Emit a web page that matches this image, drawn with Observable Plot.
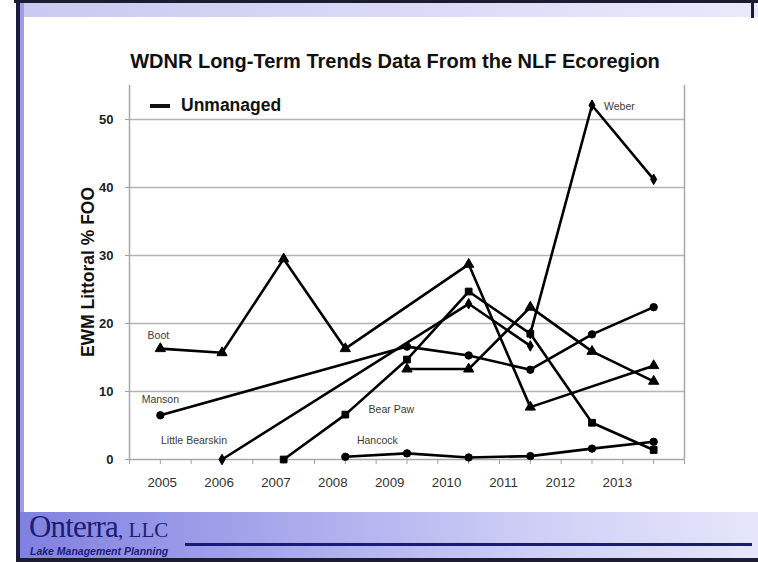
<!DOCTYPE html>
<html><head><meta charset="utf-8">
<script src="https://cdn.jsdelivr.net/npm/d3@7"></script>
<script src="https://cdn.jsdelivr.net/npm/@observablehq/plot@0.6"></script>
<style>
html,body{margin:0;padding:0;background:#fff;}
#slide{position:relative;width:758px;height:562px;overflow:hidden;font-family:Arial,"Liberation Sans",sans-serif;background:#fff;}
#topline{position:absolute;left:14px;top:0;width:744px;height:3px;background:#1c1c30;}
#topband{position:absolute;left:18px;top:3px;width:740px;height:14px;background:linear-gradient(to right,#c9c9f1,#dcdcf8 60%,#e9e9fb);}
#rightcap{position:absolute;left:751px;top:0;width:3px;height:18px;background:#1c1c30;}
#leftline{position:absolute;left:16px;top:0;width:4px;height:562px;background:#1c1c3a;}
#leftband{position:absolute;left:20px;top:3px;width:4px;height:555px;background:#9c9ce8;}
#footer{position:absolute;left:20px;top:512px;width:738px;height:46px;background:linear-gradient(to right,#8080df,#a8a8ec 35%,#cfcff6 70%,#e6e6fb);}
#bottomline{position:absolute;left:16px;top:558px;width:742px;height:4px;background:#1c1c30;}
#footrule{position:absolute;left:185px;top:543px;width:567px;height:3px;background:#1a1a7a;}
#logo{position:absolute;left:29px;top:511px;color:#1d1d78;font-family:"Liberation Serif","DejaVu Serif",serif;font-size:31px;line-height:32px;letter-spacing:-0.8px;}
#logo span{font-size:21px;letter-spacing:0;}
#tag{position:absolute;left:30px;top:545px;color:#1d1d78;font-family:Arial,sans-serif;font-style:italic;font-weight:bold;font-size:10.5px;}
#title{position:absolute;left:0;width:790px;top:50px;text-align:center;font-weight:bold;font-size:20px;color:#111;}
#ylabel{position:absolute;left:88px;top:272px;transform:translate(-50%,-50%) rotate(-90deg);white-space:nowrap;font-weight:bold;font-size:17.5px;color:#111;}
#legline{position:absolute;left:150px;top:104px;width:20px;height:4px;background:#111;}
#legtext{position:absolute;left:181px;top:95px;font-weight:bold;font-size:17.5px;color:#111;}
#chart{position:absolute;left:0;top:0;}
</style></head><body>
<div id="slide">
<div id="topband"></div><div id="topline"></div><div id="rightcap"></div>
<div id="leftband"></div><div id="leftline"></div>
<div id="footer"></div><div id="bottomline"></div><div id="footrule"></div>
<div id="logo">Onterra<span>, LLC</span></div>
<div id="tag">Lake Management Planning</div>
<div id="chart"></div>
<div id="title">WDNR Long-Term Trends Data From the NLF Ecoregion</div>
<div id="ylabel">EWM Littoral % FOO</div>
<div id="legline"></div><div id="legtext">Unmanaged</div>
</div>
<script>
// ---- data ----
const tickYears = [2005, 2006, 2007, 2008, 2009, 2010, 2011, 2012, 2013];
const tickLabels = ["2005", "2006", "2007", "2008", "2009", "2010", "2011", "2012", "2013"];
const yTicks = [0, 10, 20, 30, 40, 50];

const bootYears = [2005, 2006, 2007, 2008, 2010, 2011, 2013];
const bootValues = [16.3, 15.7, 29.5, 16.3, 28.7, 7.7, 13.8];

const mansonYears = [2005, 2009, 2010, 2011, 2012, 2013];
const mansonValues = [6.5, 16.6, 15.3, 13.2, 18.4, 22.4];

const littleBearskinYears = [2006, 2010, 2011];
const littleBearskinValues = [0, 22.9, 16.7];

const bearPawYears = [2007, 2008, 2009, 2010, 2011, 2012, 2013];
const bearPawValues = [0, 6.6, 14.7, 24.7, 18.5, 5.4, 1.4];

const hancockYears = [2008, 2009, 2010, 2011, 2012, 2013];
const hancockValues = [0.4, 0.9, 0.3, 0.5, 1.6, 2.6];

const weberYears = [2011, 2012, 2013];
const weberValues = [18.5, 52.1, 41.2];

const otherYears = [2009, 2010, 2011, 2012, 2013];
const otherValues = [13.3, 13.3, 22.4, 15.9, 11.5];

// ---- series assembly ----
const series = [
  {name: "Boot", years: bootYears, values: bootValues, symbol: "triangle", r: 3.8, label: {at: 2005, dx: -2, dy: -13}},
  {name: "Manson", years: mansonYears, values: mansonValues, symbol: "circle", r: 3.7, label: {at: 2005, dx: 0, dy: -16}},
  {name: "Little Bearskin", years: littleBearskinYears, values: littleBearskinValues, symbol: "diamond", r: 3.2, label: {at: 2006, dx: -28, dy: -19}},
  {name: "Bear Paw", years: bearPawYears, values: bearPawValues, symbol: "square", r: 3.8, label: {at: 2008, dx: 46, dy: -5}},
  {name: "Hancock", years: hancockYears, values: hancockValues, symbol: "circle", r: 3.7, label: {at: 2008, dx: 32, dy: -16}},
  {name: "Weber", years: weberYears, values: weberValues, symbol: "diamond", r: 3.2, label: {at: 2012, dx: 12, dy: 1, anchor: "start"}},
  {name: "", years: otherYears, values: otherValues, symbol: "triangle", r: 3.8, label: null}
];
const rows = s => s.years.map((y, i) => ({name: s.name, year: y, value: s.values[i]}));

// tick labels sit on a slightly compressed row, as in the original
const labelPos = y => 2005.03 + (y - 2005) * 0.9225;
const halfTicks = d3.range(2004.5, 2013.51, 0.5);

const marks = [
  Plot.gridY(yTicks.filter(d => d > 0), {stroke: "#b4b4b4", strokeOpacity: 1, strokeWidth: 1.5}),
  Plot.ruleX([2004.5, 2013.5], {stroke: "#a8a8a8", strokeWidth: 1.5}),
  Plot.ruleY([0], {stroke: "#a8a8a8", strokeWidth: 1.5}),
  Plot.axisX({ticks: halfTicks, tickSize: 5, tickFormat: () => "", stroke: "#a0a0a0", label: null}),
  Plot.axisY({ticks: yTicks, tickSize: 4, tickPadding: 12, stroke: "#a0a0a0", label: null,
    fontWeight: "bold", fontSize: 13, fill: "#222"}),
  Plot.text(tickYears, {x: d => labelPos(d), y: 0, text: (d, i) => tickLabels[i], dy: 23,
    fontSize: 13.3, fill: "#333", fontFamily: "Arial, Liberation Sans, sans-serif"})
];
for (const s of series) {
  const data = rows(s);
  marks.push(Plot.line(data, {x: "year", y: "value", stroke: "#000", strokeWidth: 2.6, strokeLinejoin: "miter"}));
  marks.push(Plot.dot(data, {x: "year", y: "value", symbol: s.symbol, r: s.r, fill: "#000", stroke: "#000", strokeWidth: 1}));
  if (s.label) {
    const p = data.find(d => d.year === s.label.at);
    marks.push(Plot.text([p], {x: "year", y: "value", text: () => s.name, dx: s.label.dx, dy: s.label.dy,
      textAnchor: s.label.anchor || "middle", fontSize: 10.5, fill: "#3a3a3a", fontFamily: "Arial, Liberation Sans, sans-serif"}));
  }
}

const chart = Plot.plot({
  width: 758, height: 562,
  marginLeft: 129, marginRight: 74, marginTop: 85, marginBottom: 103,
  style: {background: "transparent", fontFamily: "Arial, Liberation Sans, sans-serif"},
  x: {type: "linear", domain: [2004.5, 2013.5]},
  y: {domain: [0, 55]},
  marks
});
document.getElementById("chart").appendChild(chart);
</script>
</body></html>
